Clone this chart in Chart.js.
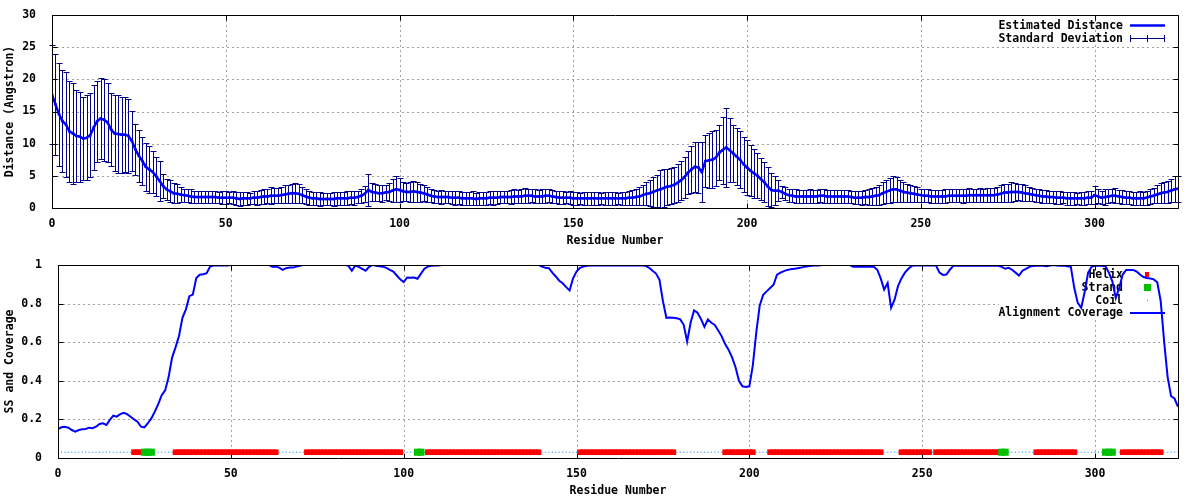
<!DOCTYPE html>
<html>
<head>
<meta charset="utf-8">
<script src="https://cdn.jsdelivr.net/npm/chart.js@4.4.0/dist/chart.umd.min.js"></script>
<style>
  html, body { margin: 0; padding: 0; background: #fff; }
  canvas { display: block; }
</style>
</head>
<body>
<canvas id="distChart" width="1200" height="250"></canvas>
<canvas id="covChart" width="1200" height="250"></canvas>
<script>
// residue 0..324
const distance = [
  17.6, 16.1, 14.6, 13.5, 13.0, 11.9, 11.6, 11.2, 11.1, 10.8,
  10.9, 11.3, 12.5, 13.5, 13.9, 13.7, 13.3, 12.2, 11.6, 11.5,
  11.4, 11.4, 11.2, 10.4, 9.1, 8.1, 7.3, 6.4, 6.0, 5.6,
  4.9, 4.2, 3.4, 2.9, 2.6, 2.3, 2.2, 2.1, 2.0, 1.9,
  1.8, 1.7, 1.7, 1.7, 1.7, 1.7, 1.7, 1.7, 1.6, 1.6,
  1.6, 1.6, 1.6, 1.5, 1.4, 1.5, 1.5, 1.5, 1.6, 1.6,
  1.7, 1.8, 1.8, 1.9, 1.9, 1.9, 2.0, 2.1, 2.2, 2.3,
  2.3, 2.2, 2.0, 1.8, 1.6, 1.5, 1.5, 1.4, 1.4, 1.4,
  1.4, 1.4, 1.5, 1.5, 1.5, 1.5, 1.6, 1.6, 1.7, 1.9,
  2.2, 2.8, 2.5, 2.4, 2.3, 2.3, 2.4, 2.5, 2.7, 2.9,
  2.8, 2.6, 2.5, 2.5, 2.6, 2.5, 2.4, 2.3, 2.1, 1.9,
  1.8, 1.7, 1.7, 1.7, 1.7, 1.6, 1.6, 1.6, 1.5, 1.5,
  1.5, 1.5, 1.4, 1.5, 1.5, 1.5, 1.6, 1.6, 1.6, 1.7,
  1.7, 1.7, 1.7, 1.8, 1.8, 1.8, 1.9, 1.9, 1.9, 1.8,
  1.8, 1.8, 1.9, 1.9, 1.8, 1.7, 1.6, 1.6, 1.6, 1.6,
  1.5, 1.5, 1.5, 1.5, 1.5, 1.5, 1.5, 1.5, 1.5, 1.5,
  1.5, 1.5, 1.5, 1.5, 1.5, 1.5, 1.6, 1.6, 1.7, 1.8,
  2.0, 2.2, 2.3, 2.5, 2.7, 2.9, 3.1, 3.3, 3.4, 3.6,
  3.9, 4.3, 4.8, 5.5, 6.0, 6.4, 6.3, 5.6, 7.3, 7.4,
  7.5, 7.8, 8.6, 9.0, 9.4, 9.0, 8.5, 8.0, 7.5, 6.8,
  6.3, 5.8, 5.4, 5.0, 4.5, 4.0, 3.3, 2.8, 2.7, 2.7,
  2.5, 2.2, 2.0, 1.9, 1.8, 1.8, 1.8, 1.8, 1.8, 1.8,
  1.8, 1.9, 1.9, 1.8, 1.8, 1.8, 1.8, 1.8, 1.8, 1.8,
  1.7, 1.6, 1.6, 1.6, 1.7, 1.7, 1.8, 1.9, 2.0, 2.3,
  2.5, 2.7, 2.9, 2.9, 2.7, 2.5, 2.4, 2.3, 2.2, 2.1,
  2.0, 1.9, 1.9, 1.8, 1.8, 1.8, 1.8, 1.8, 1.9, 1.9,
  1.9, 1.9, 1.9, 1.9, 2.0, 2.0, 2.0, 2.0, 2.0, 2.0,
  2.0, 2.0, 2.1, 2.2, 2.4, 2.4, 2.5, 2.5, 2.5, 2.4,
  2.3, 2.2, 2.1, 2.0, 1.9, 1.8, 1.8, 1.7, 1.7, 1.6,
  1.6, 1.6, 1.5, 1.5, 1.5, 1.5, 1.5, 1.5, 1.6, 1.6,
  2.0, 1.8, 1.6, 1.7, 1.8, 1.9, 1.9, 1.8, 1.7, 1.6,
  1.6, 1.5, 1.5, 1.5, 1.5, 1.6, 1.8, 1.9, 2.1, 2.3,
  2.4, 2.5, 2.7, 2.9, 3.0
];
const deviation = [
  7.7, 7.8, 8.0, 7.9, 8.2, 7.8, 7.8, 7.2, 7.0, 6.4,
  6.6, 6.5, 6.6, 6.3, 6.3, 6.4, 6.2, 5.7, 5.9, 6.0,
  5.9, 5.8, 5.7, 4.7, 4.0, 4.0, 3.8, 3.7, 3.6, 3.2,
  3.0, 3.1, 1.9, 1.6, 1.7, 1.6, 1.5, 1.1, 1.0, 1.0,
  1.1, 1.0, 0.9, 1.0, 1.0, 0.9, 1.0, 1.0, 0.9, 1.0,
  1.0, 0.9, 1.0, 1.0, 1.1, 1.0, 1.0, 0.9, 1.0, 1.1,
  1.1, 1.2, 1.1, 1.3, 1.2, 1.2, 1.3, 1.4, 1.4, 1.5,
  1.6, 1.5, 1.3, 1.2, 1.1, 1.0, 1.0, 1.1, 1.0, 1.0,
  1.0, 1.1, 1.0, 1.0, 1.0, 1.1, 1.0, 1.1, 1.0, 1.1,
  1.2, 2.5, 1.4, 1.3, 1.2, 1.3, 1.2, 1.4, 1.8, 2.0,
  1.8, 1.5, 1.4, 1.5, 1.6, 1.5, 1.4, 1.2, 1.1, 1.0,
  1.0, 1.0, 1.1, 1.0, 1.0, 1.0, 1.1, 1.0, 1.0, 1.0,
  1.0, 1.1, 1.0, 1.0, 1.0, 1.0, 1.0, 1.1, 1.0, 1.0,
  1.0, 1.0, 1.1, 1.1, 1.0, 1.1, 1.2, 1.1, 1.0, 1.1,
  1.0, 1.1, 1.1, 1.0, 1.0, 1.0, 1.0, 1.0, 0.9, 1.0,
  1.0, 1.0, 0.9, 1.0, 1.0, 1.0, 1.0, 1.0, 0.9, 1.0,
  1.0, 1.0, 1.0, 0.9, 1.0, 1.0, 1.1, 1.2, 1.3, 1.4,
  1.5, 1.8, 2.0, 2.3, 2.5, 3.0, 2.9, 2.8, 2.8, 2.8,
  2.9, 3.0, 3.2, 3.4, 3.6, 3.9, 4.0, 4.6, 4.1, 4.3,
  4.4, 4.4, 4.3, 5.2, 6.1, 5.0, 4.4, 4.4, 4.4, 4.3,
  4.3, 4.0, 3.8, 3.5, 3.2, 3.1, 3.0, 2.6, 2.3, 1.6,
  0.9, 1.0, 1.0, 1.0, 1.1, 1.0, 1.0, 1.0, 1.1, 1.0,
  1.0, 1.0, 1.1, 1.0, 1.0, 1.0, 1.0, 1.0, 1.0, 1.0,
  1.0, 1.0, 1.0, 1.1, 1.1, 1.2, 1.3, 1.4, 1.5, 1.7,
  1.8, 2.0, 2.0, 1.9, 1.7, 1.5, 1.4, 1.3, 1.2, 1.1,
  1.0, 1.0, 1.0, 1.0, 1.0, 1.0, 1.0, 1.1, 1.0, 1.0,
  1.0, 1.0, 1.1, 1.0, 1.1, 1.0, 1.0, 1.1, 1.0, 1.1,
  1.1, 1.1, 1.2, 1.3, 1.4, 1.4, 1.5, 1.4, 1.3, 1.3,
  1.2, 1.1, 1.0, 1.0, 1.0, 1.0, 1.0, 1.0, 1.0, 1.0,
  1.0, 0.9, 1.0, 1.0, 1.0, 0.9, 1.0, 1.0, 1.0, 1.0,
  1.4, 1.1, 1.0, 1.3, 1.1, 1.0, 1.2, 1.0, 1.1, 1.0,
  1.0, 1.0, 1.0, 1.1, 1.0, 1.1, 1.2, 1.2, 1.4, 1.6,
  1.6, 1.7, 1.8, 2.0, 2.0
];
const coverage = [
  .150, .159, .162, .157, .145, .137, .145, .149, .150, .157,
  .154, .162, .176, .180, .171, .197, .219, .214, .227, .234,
  .227, .214, .200, .188, .162, .158, .180, .205, .240, .279,
  .325, .350, .419, .520, .573, .632, .726, .770, .838, .846,
  .932, .949, .952, .957, .991, .997, .997, .997, .997, .997,
  1, 1, 1, 1, 1, 1, 1, 1, 1, 1,
  1, 1, .991, .991, .986, .974, .983, .986, .986, .991,
  .995, 1, 1, 1, 1, 1, 1, 1, 1, 1,
  1, 1, 1, 1, .995, .970, .997, .990, .980, .970,
  .990, 1, .995, .993, .991, .985, .974, .965, .945, .925,
  .911, .935, .933, .935, .928, .955, .980, .991, .995, .997,
  .997, 1, 1, 1, 1, 1, 1, 1, 1, 1,
  1, 1, 1, 1, 1, 1, 1, 1, 1, 1,
  1, 1, 1, 1, 1, 1, 1, 1, 1, 1,
  .991, .985, .983, .960, .940, .918, .905, .885, .868, .930,
  .966, .985, .991, .995, .997, .997, .997, .997, .997, .997,
  .997, .997, .997, .997, .997, .997, .997, .997, .997, .997,
  .995, .985, .970, .955, .923, .812, .726, .728, .726, .724,
  .718, .690, .603, .700, .764, .752, .720, .679, .718, .700,
  .689, .660, .630, .590, .560, .521, .470, .400, .371, .368,
  .371, .480, .650, .790, .845, .863, .880, .897, .949, .960,
  .968, .974, .978, .980, .983, .986, .991, .993, .995, .997,
  .997, 1, 1, 1, 1, 1, 1, 1, 1, 1,
  .991, .991, .991, .991, .991, .991, .991, .975, .930, .872,
  .906, .778, .820, .890, .930, .960, .980, .995, .997, .997,
  .997, .997, .997, .997, .997, .960, .948, .950, .975, .995,
  .995, .995, .995, .995, .995, .995, .995, .995, .995, .995,
  .995, .995, .995, .990, .980, .985, .975, .960, .945, .970,
  .980, .990, .994, .995, .997, .995, .993, .997, 1, .997,
  .995, .997, .993, .990, .880, .803, .778, .860, .960, .990,
  .995, .997, .995, .993, .960, .915, .829, .880, .950, .974,
  .974, .974, .966, .950, .937, .932, .930, .925, .910, .812,
  .600, .419, .320, .308, .265
];
// secondary structure segments (first, last residue)
const helixRanges = [[22, 24], [34, 63], [72, 99], [107, 139], [151, 178], [193, 201],
  [206, 238], [244, 252], [254, 272], [283, 294], [308, 319]];
const strandRanges = [[25, 27], [104, 105], [273, 274], [303, 305]];
const ssLevel = 0.03;

const xMax = 324;
const xStep = 50;
const distMax = 30, distStep = 5;
const covMax = 1, covStep = 0.2;

const FONT = '"DejaVu Sans Mono", "Liberation Mono", monospace';
Chart.defaults.font.family = FONT;
Chart.defaults.font.size = 11.5;
Chart.defaults.font.weight = 'bold';
Chart.defaults.color = '#000';

const residues = distance.map((_, i) => i);
const ssType = residues.map(() => 'C');
helixRanges.forEach(([a, b]) => { for (let r = a; r <= b; r++) ssType[r] = 'H'; });
strandRanges.forEach(([a, b]) => { for (let r = a; r <= b; r++) ssType[r] = 'E'; });
const ssPoints = t => residues.filter(r => ssType[r] === t).map(r => ({x: r, y: ssLevel}));

// gnuplot like frame: dashed grid, box, inward mirror ticks
const gnuFrame = {
  id: 'gnuFrame',
  beforeDatasetsDraw(chart) {
    const {ctx, chartArea: a, scales: {x, y}} = chart;
    ctx.save();
    ctx.strokeStyle = '#a0a0a0';
    ctx.lineWidth = 1;
    ctx.setLineDash([2, 3]);
    ctx.beginPath();
    x.ticks.forEach(t => {
      const px = Math.round(x.getPixelForValue(t.value)) + 0.5;
      if (px < a.left + 2 || px > a.right - 2) return;
      ctx.moveTo(px, a.top); ctx.lineTo(px, a.bottom);
    });
    y.ticks.forEach(t => {
      const py = Math.round(y.getPixelForValue(t.value)) + 0.5;
      if (py < a.top + 2 || py > a.bottom - 2) return;
      ctx.moveTo(a.left, py); ctx.lineTo(a.right, py);
    });
    ctx.stroke();
    ctx.restore();
  },
  afterDraw(chart) {
    const {ctx, chartArea: a, scales: {x, y}} = chart;
    const L = Math.round(a.left) + 0.5, R = Math.round(a.right) + 0.5;
    const T = Math.round(a.top) + 0.5, B = Math.round(a.bottom) + 0.5;
    ctx.save();
    ctx.strokeStyle = '#000';
    ctx.lineWidth = 1;
    ctx.beginPath();
    ctx.rect(L, T, R - L, B - T);
    x.ticks.forEach(t => {
      const px = Math.round(x.getPixelForValue(t.value)) + 0.5;
      ctx.moveTo(px, B); ctx.lineTo(px, B - 5);
      ctx.moveTo(px, T); ctx.lineTo(px, T + 5);
    });
    y.ticks.forEach(t => {
      const py = Math.round(y.getPixelForValue(t.value)) + 0.5;
      ctx.moveTo(L, py); ctx.lineTo(L + 5, py);
      ctx.moveTo(R, py); ctx.lineTo(R - 5, py);
    });
    ctx.stroke();
    ctx.restore();
  }
};

const errorBars = {
  id: 'errorBars',
  beforeDatasetsDraw(chart) {
    const {ctx, scales: {x, y}} = chart;
    ctx.save();
    ctx.strokeStyle = '#00008b';
    ctx.lineWidth = 1;
    ctx.beginPath();
    residues.forEach(r => {
      const px = Math.round(x.getPixelForValue(r)) + 0.5;
      const top = Math.round(y.getPixelForValue(distance[r] + deviation[r])) + 0.5;
      const bot = Math.round(y.getPixelForValue(Math.max(0, distance[r] - deviation[r]))) + 0.5;
      ctx.moveTo(px, top); ctx.lineTo(px, bot);
      ctx.moveTo(px - 3, top); ctx.lineTo(px + 3, top);
      ctx.moveTo(px - 3, bot); ctx.lineTo(px + 3, bot);
    });
    ctx.stroke();

    // key
    ctx.font = 'bold 11.5px ' + FONT;
    ctx.fillStyle = '#000';
    ctx.textAlign = 'right';
    ctx.textBaseline = 'middle';
    ctx.fillText('Estimated Distance', 1123, 26);
    ctx.fillText('Standard Deviation', 1123, 39);
    ctx.strokeStyle = '#0000ff';
    ctx.lineWidth = 2.5;
    ctx.beginPath(); ctx.moveTo(1130, 25.5); ctx.lineTo(1165, 25.5); ctx.stroke();
    ctx.strokeStyle = '#00008b';
    ctx.lineWidth = 1;
    ctx.beginPath();
    ctx.moveTo(1130, 38.5); ctx.lineTo(1165, 38.5);
    [1130.5, 1147.5, 1164.5].forEach(px => { ctx.moveTo(px, 35); ctx.lineTo(px, 42); });
    ctx.stroke();
    ctx.restore();
  }
};

const ssKey = {
  id: 'ssKey',
  beforeDatasetsDraw(chart) {
    const {ctx} = chart;
    ctx.save();
    ctx.fillStyle = '#fff';
    ctx.fillRect(999, 14, 172, 56);
    ctx.font = 'bold 11.5px ' + FONT;
    ctx.fillStyle = '#000';
    ctx.textAlign = 'right';
    ctx.textBaseline = 'middle';
    ctx.fillText('Helix', 1123, 25);
    ctx.fillText('Strand', 1123, 38);
    ctx.fillText('Coil', 1123, 51);
    ctx.fillText('Alignment Coverage', 1123, 63.5);
    ctx.fillStyle = '#ff0000';
    ctx.fillRect(1145, 22, 4, 5);
    ctx.fillStyle = '#00c000';
    ctx.fillRect(1144, 34, 7, 7);
    ctx.fillStyle = '#1e90ff';
    ctx.fillRect(1147, 50, 1, 1);
    ctx.strokeStyle = '#0000ff';
    ctx.lineWidth = 2;
    ctx.beginPath(); ctx.moveTo(1130, 63); ctx.lineTo(1165, 63); ctx.stroke();
    ctx.restore();
  }
};

function xScale() {
  return {
    type: 'linear', min: 0, max: xMax,
    ticks: {stepSize: xStep, includeBounds: false, padding: 1, maxRotation: 0, color: '#000'},
    grid: {display: false},
    border: {display: false},
    title: {display: true, text: 'Residue Number', padding: {top: 0, bottom: 2}, color: '#000'},
    afterFit(s) { s.height = 42; }
  };
}

function yScale(max, step, title, width) {
  return {
    type: 'linear', min: 0, max: max,
    ticks: {stepSize: step, padding: 8, color: '#000', callback: v => String(Number(v.toFixed(1)))},
    grid: {display: false},
    border: {display: false},
    title: {display: true, text: title, padding: {top: 3, bottom: 0}, color: '#000'},
    afterFit(s) { s.width = width; }
  };
}

const common = {
  responsive: false,
  animation: false,
  devicePixelRatio: 1,
  events: [],
  plugins: {legend: {display: false}, tooltip: {enabled: false}}
};

new Chart(document.getElementById('distChart'), {
  type: 'scatter',
  data: {
    datasets: [{
      label: 'Estimated Distance',
      data: residues.map(r => ({x: r, y: distance[r]})),
      showLine: true,
      borderColor: '#0000ff',
      backgroundColor: '#0000ff',
      borderWidth: 2.5,
      pointStyle: 'rect',
      pointRadius: 1.8,
      pointBorderWidth: 0
    }]
  },
  options: Object.assign({}, common, {
    layout: {padding: {left: 0, right: 22, top: 15, bottom: 0}},
    scales: {x: xScale(), y: yScale(distMax, distStep, 'Distance (Angstron)', 52)}
  }),
  plugins: [gnuFrame, errorBars]
});

new Chart(document.getElementById('covChart'), {
  type: 'scatter',
  data: {
    datasets: [
      {
        label: 'Alignment Coverage',
        data: residues.map(r => ({x: r, y: coverage[r]})),
        showLine: true,
        borderColor: '#0000ff',
        borderWidth: 2,
        pointRadius: 0,
        order: 0
      },
      {
        label: 'Strand',
        data: ssPoints('E'),
        pointStyle: 'rect',
        pointRadius: 5,
        pointBorderWidth: 0,
        backgroundColor: '#00c000',
        order: 1
      },
      {
        label: 'Helix',
        data: ssPoints('H'),
        pointStyle: 'rect',
        pointRadius: 4,
        pointBorderWidth: 0,
        backgroundColor: '#ff0000',
        order: 2
      },
      {
        label: 'Coil',
        data: ssPoints('C'),
        pointStyle: 'rect',
        pointRadius: 0.8,
        pointBorderWidth: 0,
        backgroundColor: '#1e90ff',
        order: 3
      }
    ]
  },
  options: Object.assign({}, common, {
    layout: {padding: {left: 0, right: 22, top: 13, bottom: 0}},
    scales: {x: xScale(), y: yScale(covMax, covStep, 'SS and Coverage', 58)}
  }),
  plugins: [gnuFrame, ssKey]
});
</script>
</body>
</html>
